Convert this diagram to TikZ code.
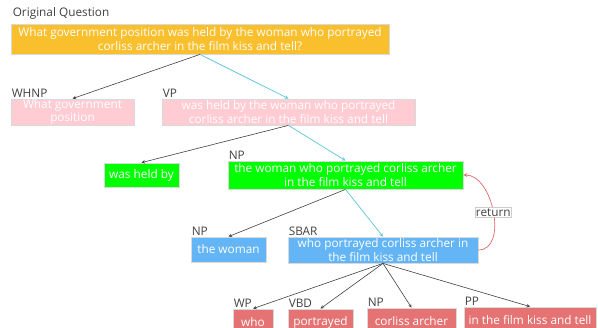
\documentclass[tikz,border=0pt]{standalone}
\usepackage{fontspec}
\setmainfont{Open Sans}
\usetikzlibrary{arrows, positioning}

\definecolor{qorange}{HTML}{F9BF2C}
\definecolor{lpink}{HTML}{FFCCD3}
\definecolor{lgreen}{HTML}{00FF00}
\definecolor{lblue}{HTML}{64B5F6}
\definecolor{lred}{HTML}{E57373}
\definecolor{lcyan}{HTML}{5BC4DA}
\definecolor{lgray}{HTML}{404040}
\definecolor{rline}{HTML}{E06666}

\begin{document}
\begin{tikzpicture}[
    x=1pt, y=-1pt,
    font=\fontsize{11.8}{13.6}\selectfont,
    phrase/.style={rectangle, draw=black!15, line width=0.8pt, text=white, align=center, inner sep=0pt},
    tag/.style={text=lgray, inner sep=1pt},
    link/.style={-stealth, lgray, line width=0.6pt},
    main/.style={-stealth, lcyan, line width=0.7pt}
]
    \useasboundingbox (0,0) rectangle (598,328);

    % question
    \node[phrase, fill=qorange, minimum width=378pt, minimum height=30pt] (q) at (200,39)
        {What government position was held by the woman who portrayed\\corliss archer in the film kiss and tell?};
    \node[tag, above right=3pt and 1pt of q.north west] (qlab) {Original Question};

    % first level
    \node[phrase, fill=lpink, minimum width=123pt, minimum height=26pt] (whnp) at (72.5,112) {What government\\position};
    \node[phrase, fill=lpink, minimum width=253pt, minimum height=26pt] (vp) at (288.5,112)
        {was held by the woman who portrayed\\corliss archer in the film kiss and tell};
    \node[tag, above right=0pt and 0pt of whnp.north west] (whnplab) {WHNP};
    \node[tag, above right=0pt and 0pt of vp.north west] (vplab) {VP};

    % second level
    \node[phrase, fill=lgreen, minimum width=75pt, minimum height=24pt] (held) at (141.5,175) {was held by};
    \node[phrase, fill=lgreen, minimum width=235pt, minimum height=28pt] (np) at (345.5,175)
        {the woman who portrayed corliss archer\\in the film kiss and tell};
    \node[tag, above right=0pt and 0pt of np.north west] (nplab) {NP};

    % third level
    \node[phrase, fill=lblue, minimum width=75pt, minimum height=25pt] (woman) at (228.5,249.5) {the woman};
    \node[phrase, fill=lblue, minimum width=190pt, minimum height=26pt] (sbar) at (383,250)
        {who portrayed corliss archer in\\the film kiss and tell};
    \node[tag, above right=0pt and 0pt of woman.north west] (womanlab) {NP};
    \node[tag, above right=0pt and 0pt of sbar.north west] (sbarlab) {SBAR};

    % fourth level
    \node[phrase, fill=lred, minimum width=40pt, minimum height=26pt] (who) at (253,322) {who};
    \node[phrase, fill=lred, minimum width=65pt, minimum height=26pt] (vbd) at (320.5,322) {portrayed};
    \node[phrase, fill=lred, minimum width=89pt, minimum height=26pt] (obj) at (411.5,321) {corliss archer};
    \node[phrase, fill=lred, minimum width=132pt, minimum height=26pt] (pp) at (530,320) {in the film kiss and tell};
    \node[tag, above right=0pt and 0pt of who.north west] (wholab) {WP};
    \node[tag, above right=0pt and 0pt of vbd.north west] (vbdlab) {VBD};
    \node[tag, above right=0pt and 0pt of obj.north west] (objlab) {NP};
    \node[tag, above right=0pt and 0pt of pp.north west] (pplab) {PP};

    % edges
    \draw[link] (q.south) -- (whnp.north);
    \draw[main] (q.south) -- (vp.north);
    \draw[link] (vp.south) -- (held.north);
    \draw[main] (vp.south) -- (np.north);
    \draw[link] (np.south) -- (woman.north);
    \draw[main] (np.south) -- (sbar.north);
    \draw[link] (sbar.south) -- (who.north);
    \draw[link] (sbar.south) -- (vbd.north);
    \draw[link] (sbar.south) -- (obj.north);
    \draw[link] (sbar.south) -- (pp.north);

    % return
    \draw[-stealth, rline, line width=0.7pt] (sbar.east) to[out=0, in=0]
        node[pos=0.5, fill=white, draw=black!20, line width=0.6pt, text=lgray, inner sep=1pt] (ret) {return} (np.east);
\end{tikzpicture}
\end{document}
